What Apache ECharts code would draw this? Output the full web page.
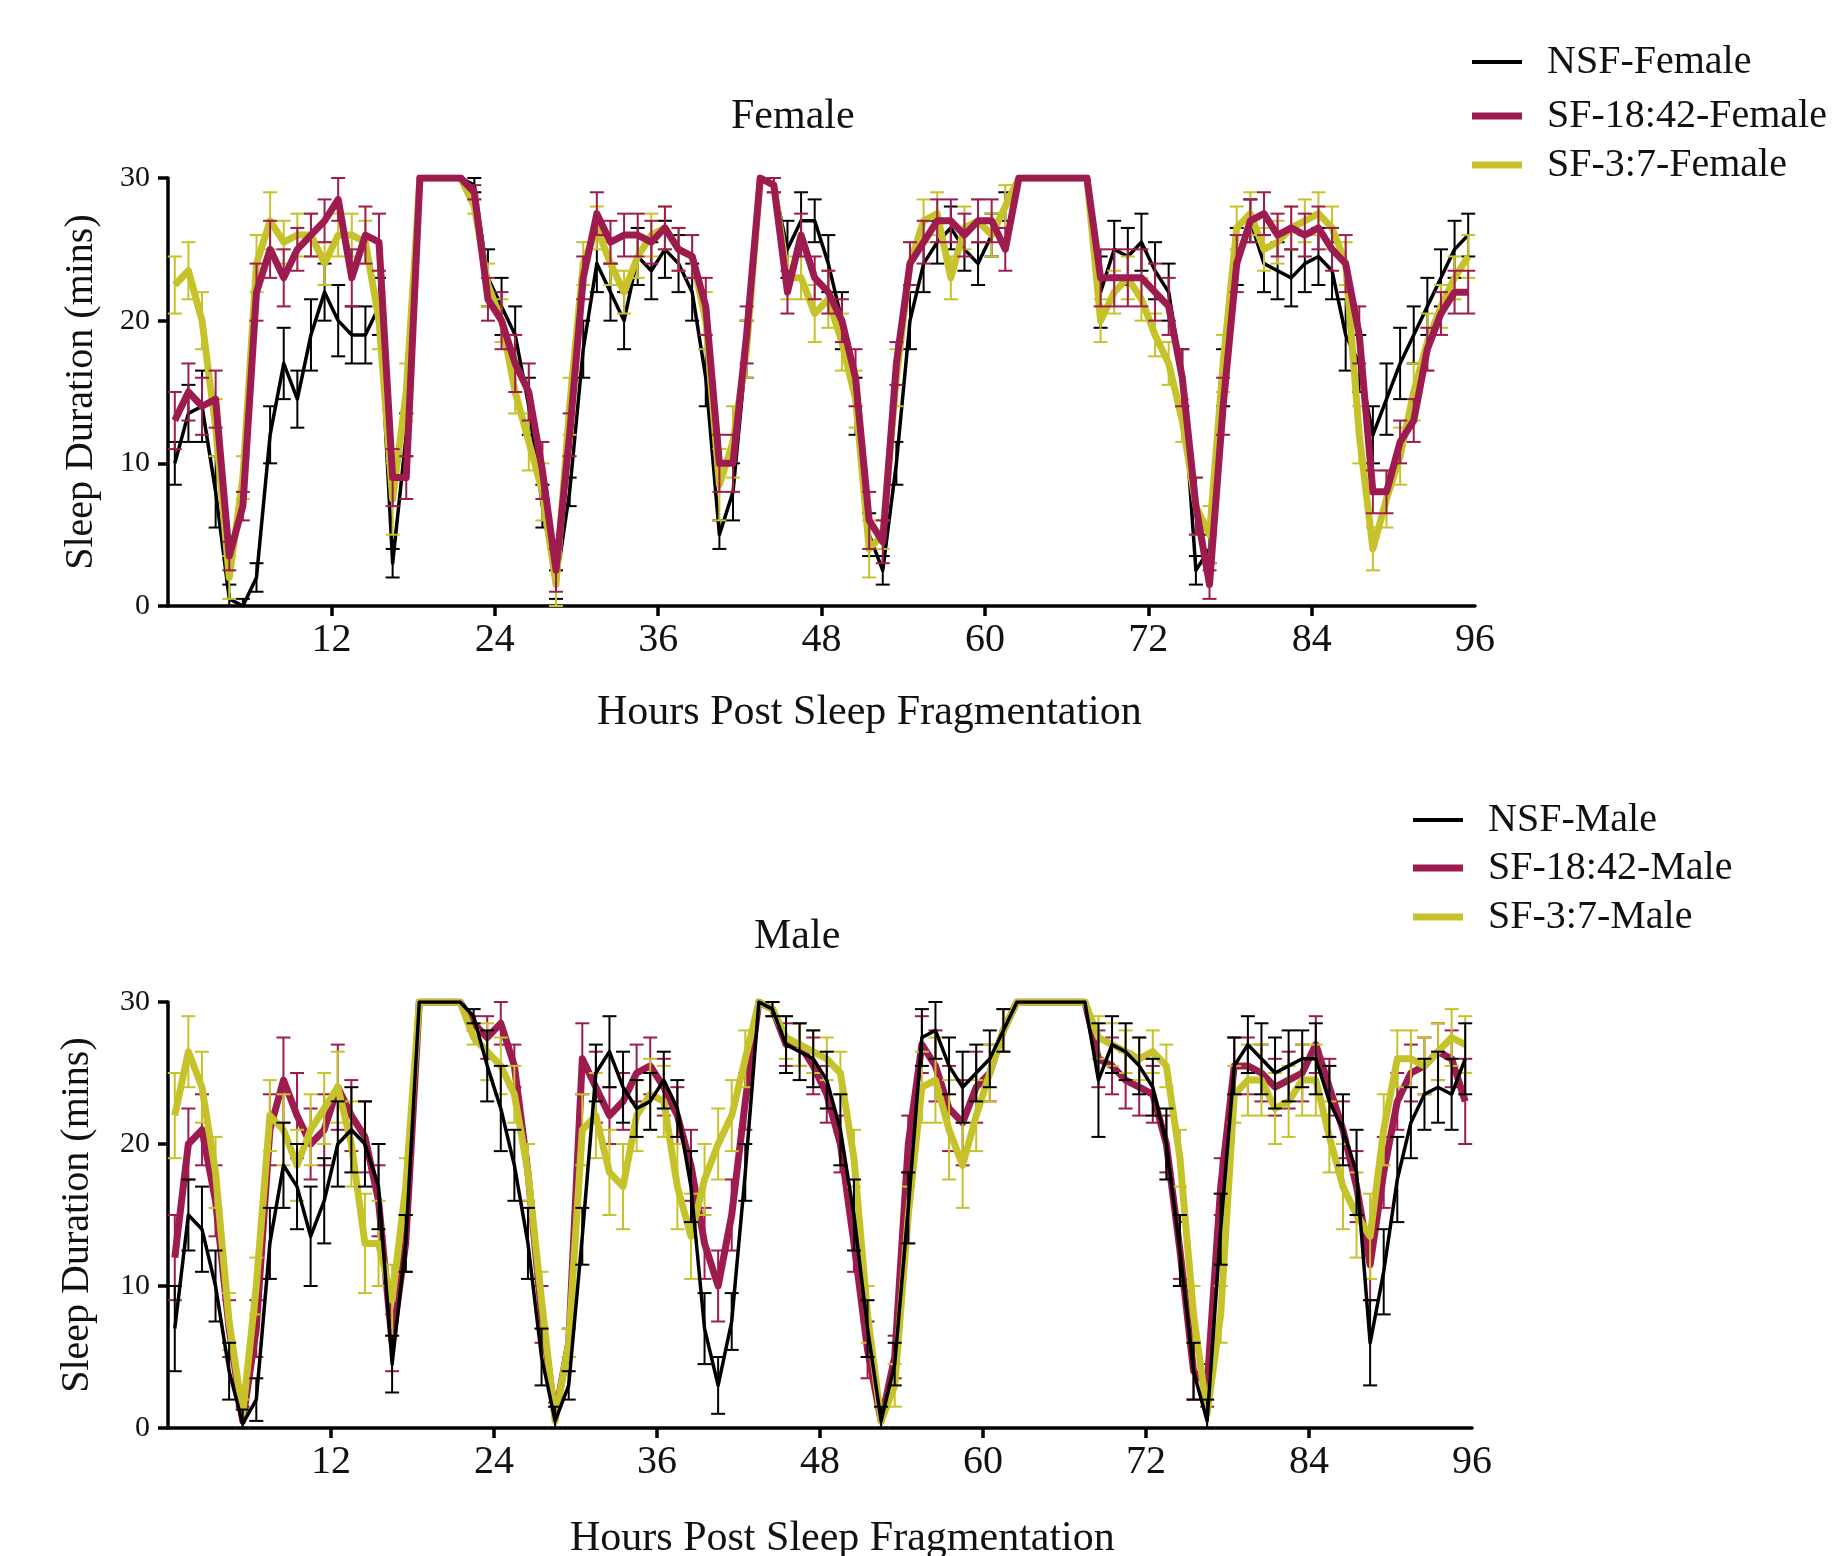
<!DOCTYPE html>
<html>
<head>
<meta charset="utf-8">
<script src="https://cdn.jsdelivr.net/npm/echarts@6/dist/echarts.min.js"></script>
<style>
html, body { margin: 0; padding: 0; background: #ffffff; }
#chart { width: 1835px; height: 1556px; }
</style>
</head>
<body>
<div id="chart"></div>
<script>
// Hourly bins (bin centres) across the 96 h recording
const HOURS = Array.from({ length: 96 }, (_, i) => i + 0.5);
const X_TICKS = [12, 24, 36, 48, 60, 72, 84];
const X_LABELS = [12, 24, 36, 48, 60, 72, 84, 96];

// Female: mean sleep per 30-min epoch (mins), one value per hour
const femNSF = [
  10, 13.5, 14, 8, 0.5, 0, 2, 12, 17, 14.5, 19, 22,
  20, 19, 19, 21, 3, 12, 30, 30, 30, 30, 29.5, 23,
  21, 19, 14, 7, 1.5, 8, 18, 24, 22, 20, 24.5, 23.5,
  25, 24, 22, 16, 5, 8, 18, 30, 29.5, 25, 27, 27,
  24, 20, 14, 5, 2.5, 10, 20, 24, 25.5, 26.5, 25, 24,
  26, 28, 30, 30, 30, 30, 30, 30, 22, 25, 24.5, 25.5,
  23.5, 22, 16, 2.5, 4, 16, 24.5, 27, 24, 23.5, 23, 24,
  24.5, 23.5, 19, 17, 12, 14.5, 17, 19, 21, 23, 25, 26
];
const femSF18 = [
  13, 15, 14, 14.5, 3.5, 7, 22, 25, 23, 25, 26, 27,
  28.5, 23, 26, 25.5, 9, 9, 30, 30, 30, 30, 29, 21.5,
  20, 17, 15, 9.5, 2.5, 12, 23, 27.5, 25.5, 26, 26, 25.5,
  26.5, 25, 24.5, 21, 10, 10, 19, 30, 29.5, 22, 26, 23,
  22, 20, 16, 6, 4.5, 17, 24, 25.5, 27, 27, 26, 27,
  27, 25, 30, 30, 30, 30, 30, 30, 23, 23, 23, 23,
  22, 21, 16, 7, 1.5, 14, 24, 27, 27.5, 26, 26.5, 26,
  26.5, 25, 24, 19, 8, 8, 11.5, 13, 18, 20.5, 22, 22
];
const femSF37 = [
  22.5, 23.5, 20, 12.5, 2, 9, 24, 27, 25.5, 26, 26, 24,
  26, 26, 25.5, 20, 7.5, 15, 30, 30, 30, 30, 28, 22.5,
  20, 15, 11.5, 8, 1.5, 14, 24, 26.5, 24, 22, 24.5, 26,
  26.5, 25, 24.5, 20, 8.5, 11.5, 18, 30, 29.5, 23, 23, 20.5,
  21.5, 18.5, 14.5, 4, 5, 16, 24, 27, 27.5, 23, 26.5, 27,
  26, 28, 30, 30, 30, 30, 30, 30, 20, 22, 23, 21.5,
  19, 17, 13, 7, 5, 17, 26.5, 27.5, 25, 25.5, 26.5, 27,
  27.5, 26.5, 24, 12, 4, 7.5, 10.5, 15, 18.5, 21, 23, 24.5
];

// Female: SEM
const femNSFErr = [
  1.5, 2, 2.5, 2.5, 1, 0.5, 1, 2, 2.5, 2, 2.5, 2,
  2.5, 2, 2, 2, 1, 1.5, 0, 0, 0, 0, 0.5, 2,
  2, 2, 2, 1.5, 1, 1, 2, 2, 2, 2, 2, 2,
  2, 2, 2, 2, 1, 2, 2, 0, 0.5, 2, 2, 1.5,
  2, 2, 2, 1.5, 1, 1.5, 2, 2, 1.5, 1.5, 1.5, 1.5,
  1.5, 1, 0, 0, 0, 0, 0, 0, 2.5, 2, 2, 2,
  2, 2, 2, 1, 1, 2, 2, 1.5, 2, 2, 2, 2,
  2, 2, 2.5, 2, 2, 2.5, 2.5, 2, 2, 2, 2, 1.5
];
const femSF18Err = [
  2, 2, 2, 2, 1, 1, 2, 2, 2, 1.5, 1.5, 1.5,
  1.5, 2, 2, 2, 2, 1.5, 0, 0, 0, 0, 0.5, 1.5,
  2, 2, 2, 2, 1.5, 1.5, 1.5, 1.5, 1.5, 1.5, 1.5, 1.5,
  1.5, 1.5, 1.5, 2, 2, 2, 2, 0, 0.5, 1.5, 1.5, 1.5,
  1.5, 1.5, 2, 2, 1.5, 1.5, 1.5, 1.5, 1.5, 1.5, 1.5, 1.5,
  1.5, 1.5, 0, 0, 0, 0, 0, 0, 2, 2, 2, 2,
  2, 2, 2, 2, 1, 2, 2, 1.5, 1.5, 1.5, 1.5, 1.5,
  1.5, 1.5, 2, 2, 1.5, 1.5, 1.5, 1.5, 1.5, 1.5, 1.5, 1.5
];
const femSF37Err = [
  2, 2, 2, 2, 1.5, 1.5, 2, 2, 1.5, 1.5, 1.5, 1.5,
  1.5, 1.5, 1.5, 2, 2.5, 2, 0, 0, 0, 0, 0.5, 1.5,
  1.5, 1.5, 2, 2, 2, 2, 1.5, 1.5, 1.5, 1.5, 1.5, 1.5,
  1.5, 1.5, 1.5, 2, 2.5, 2.5, 2, 0, 0.5, 1.5, 1.5, 2,
  2, 2, 2, 2, 1, 2, 1.5, 1.5, 1.5, 1.5, 1.5, 1.5,
  1.5, 1.5, 0, 0, 0, 0, 0, 0, 1.5, 1.5, 1.5, 1.5,
  1.5, 1.5, 1.5, 2, 2, 2, 1.5, 1.5, 1.5, 1.5, 1.5, 1.5,
  1.5, 1.5, 1.5, 2, 1.5, 2, 2, 2, 2, 1.5, 1.5, 1.5
];

// Male: mean sleep per 30-min epoch (mins), one value per hour
const malNSF = [
  7, 15, 14, 10, 4, 0.3, 2, 13, 18.5, 17, 13.5, 16,
  20, 21, 20, 17, 4.5, 13, 30, 30, 30, 30, 29, 25.5,
  22.5, 18.5, 13, 5, 0.5, 3, 13.5, 25, 26.5, 24, 22.5, 23,
  24.5, 22.5, 17, 7, 3, 7.5, 18, 30, 29.5, 27, 26.5, 26,
  24.5, 21, 15, 7, 0.5, 4.5, 15.5, 27.5, 28, 25.5, 24, 25,
  26, 28, 30, 30, 30, 30, 30, 30, 24.5, 27, 26.5, 25.5,
  24, 20, 12.5, 4, 0.5, 14, 25.5, 27, 26, 25, 25.5, 26,
  26, 23, 21, 18, 6, 11, 17.5, 21.5, 23.5, 24, 23.5, 26
];
const malSF18 = [
  12, 20, 21, 16, 7, 0.5, 7, 21, 24.5, 22, 20, 21,
  24, 22, 20.5, 16, 6, 13, 30, 30, 30, 30, 28.5, 27.5,
  28.5, 25.5, 18, 8, 0.8, 6, 26, 24, 22, 23, 25, 25.5,
  24, 22, 18.5, 13, 10, 15, 23, 30, 29.5, 27, 27, 25.5,
  23.5, 20, 13, 5.5, 0.5, 5, 20, 27, 25.5, 22.5, 21.5, 24,
  25, 28, 30, 30, 30, 30, 30, 30, 26, 25.5, 24.5, 24,
  23.5, 20, 12.5, 4, 3, 17, 25.5, 25.5, 25, 24, 24.5, 25,
  27, 24, 21, 17, 11.5, 18, 23, 25, 25.5, 26.5, 26, 23
];
const malSF37 = [
  22, 26.5, 24, 18, 7.5, 1, 10, 22, 21, 18.5, 21, 22.5,
  24, 20, 13, 13, 9, 17, 30, 30, 30, 30, 27.5, 26.5,
  25.5, 23.5, 18, 9, 0.5, 6, 21, 22, 18, 17, 22, 23.5,
  23, 17, 13.5, 17.5, 20, 22, 26, 30, 29.5, 27.5, 27, 26.5,
  26, 25, 19, 8, 0.5, 3, 15, 24, 24.5, 21, 18.5, 22,
  25, 28, 30, 30, 30, 30, 30, 30, 27.5, 27, 26.5, 26,
  26.5, 25.5, 19, 8, 1, 8, 23.5, 24.5, 24.5, 22.5, 23, 24.5,
  24.5, 20.5, 17, 15, 13.5, 21, 26, 26, 25.5, 26.5, 27.5, 27
];

// Male: SEM
const malNSFErr = [
  3, 2.5, 3, 2.5, 2, 1, 1.5, 2.5, 3, 3, 3.5, 3,
  3, 3, 3, 3, 2, 2, 0, 0, 0, 0, 0.5, 2.5,
  3, 2.5, 2.5, 2, 1, 1, 2, 2, 2.5, 2.5, 2, 2,
  2, 2, 2.5, 2.5, 2, 2, 2, 0, 0.5, 2, 2, 2,
  2, 2.5, 2.5, 2, 1, 1.5, 2.5, 2, 2, 2, 2.5, 2,
  2, 1.5, 0, 0, 0, 0, 0, 0, 4, 2, 2, 2,
  2, 2.5, 2.5, 2, 1.5, 2.5, 2, 2, 2.5, 2.5, 2.5, 2,
  2.5, 2.5, 2.5, 3, 3, 3, 3, 2.5, 2.5, 2.5, 2.5, 2.5
];
const malSF18Err = [
  3, 2.5, 2.5, 2.5, 2, 1, 2, 2.5, 3, 3, 2.5, 2.5,
  3, 2.5, 2.5, 2.5, 2, 2, 0, 0, 0, 0, 0.5, 1.5,
  1.5, 1.5, 2, 2, 1, 1, 2.5, 2.5, 2, 2, 2, 2,
  2, 2, 2.5, 2.5, 2.5, 2.5, 2, 0, 0.5, 1.5, 1.5, 2,
  2, 2, 2, 2, 1, 1.5, 2, 2, 2.5, 3, 3, 2.5,
  2, 1.5, 0, 0, 0, 0, 0, 0, 2, 2, 2, 2,
  2, 2, 2, 2, 1.5, 2, 2, 2, 2, 2, 2, 2,
  2, 2, 2, 2.5, 2.5, 2.5, 2, 2, 2, 2, 2, 3
];
const malSF37Err = [
  3, 2.5, 2.5, 2.5, 2, 1, 2, 2.5, 2.5, 2.5, 2.5, 2.5,
  2.5, 3, 3.5, 3, 2.5, 2, 0, 0, 0, 0, 0.5, 2,
  2, 2, 2, 2, 1, 1, 2.5, 3, 3, 3, 2.5, 2.5,
  2.5, 3, 3, 2.5, 2.5, 2.5, 2, 0, 0.5, 1.5, 1.5, 1.5,
  1.5, 1.5, 2, 2, 1, 1.5, 2, 2.5, 3, 3.5, 3, 2.5,
  2, 1.5, 0, 0, 0, 0, 0, 0, 1.5, 1.5, 1.5, 1.5,
  1.5, 1.5, 2, 2, 1, 2, 2, 2.5, 2.5, 2.5, 2.5, 2.5,
  2.5, 2.5, 3, 3, 3, 2.5, 2, 2, 2, 2, 2, 2
];

const FONT = "'Liberation Serif', 'Times New Roman', serif";
const INK = '#111111';
const C_NSF = '#000000';
const C_SF18 = '#9e1b50';
const C_SF37 = '#c6c32a';

// Panel layout (pixels)
const panels = [
  {
    title: 'Female', titleLeft: 731, titleTop: 96,
    grid: { left: 168, top: 178, width: 1307, height: 428 },
    xName: { left: 597, top: 692 }, yNameGap: 67,
    // drawing order: first is at the bottom
    groups: [
      { name: 'NSF-Female', vals: femNSF, errs: femNSFErr, color: C_NSF, width: 3.5 },
      { name: 'SF-3:7-Female', vals: femSF37, errs: femSF37Err, color: C_SF37, width: 7 },
      { name: 'SF-18:42-Female', vals: femSF18, errs: femSF18Err, color: C_SF18, width: 7 }
    ],
    legend: { left: 1472, rows: [
      { name: 'NSF-Female', cy: 62, h: 4 },
      { name: 'SF-18:42-Female', cy: 116, h: 7 },
      { name: 'SF-3:7-Female', cy: 165, h: 7 }
    ] }
  },
  {
    title: 'Male', titleLeft: 754, titleTop: 916,
    grid: { left: 168, top: 1002, width: 1304, height: 426 },
    xName: { left: 570, top: 1518 }, yNameGap: 71,
    groups: [
      { name: 'SF-18:42-Male', vals: malSF18, errs: malSF18Err, color: C_SF18, width: 7 },
      { name: 'SF-3:7-Male', vals: malSF37, errs: malSF37Err, color: C_SF37, width: 7 },
      { name: 'NSF-Male', vals: malNSF, errs: malNSFErr, color: C_NSF, width: 3.5 }
    ],
    legend: { left: 1413, rows: [
      { name: 'NSF-Male', cy: 820, h: 4 },
      { name: 'SF-18:42-Male', cy: 868, h: 7 },
      { name: 'SF-3:7-Male', cy: 917, h: 7 }
    ] }
  }
];

const titleStyle = { fontFamily: FONT, fontSize: 42, fontWeight: 'normal', color: INK };

const option = {
  animation: false,
  backgroundColor: '#ffffff',
  title: [],
  legend: [],
  grid: [],
  xAxis: [],
  yAxis: [],
  series: []
};

panels.forEach((p, pi) => {
  option.title.push({ text: p.title, left: p.titleLeft, top: p.titleTop, padding: 0, textStyle: titleStyle });
  option.title.push({ text: 'Hours Post Sleep Fragmentation', left: p.xName.left, top: p.xName.top, padding: 0, textStyle: titleStyle });

  option.grid.push(Object.assign({ containLabel: false }, p.grid));

  option.xAxis.push({
    type: 'value', gridIndex: pi, min: 0, max: 96,
    axisLine: { show: true, onZero: false, lineStyle: { color: '#000', width: 3.5 } },
    axisTick: { show: true, length: 10, customValues: X_TICKS, lineStyle: { color: '#000', width: 3.5 } },
    axisLabel: { customValues: X_LABELS, fontFamily: FONT, fontSize: 40, color: INK, margin: 14 },
    splitLine: { show: false }
  });
  option.yAxis.push({
    type: 'value', gridIndex: pi, min: 0, max: 30, interval: 10,
    name: 'Sleep Duration (mins)', nameLocation: 'middle', nameGap: p.yNameGap, nameRotate: 90,
    nameTextStyle: { fontFamily: FONT, fontSize: 40, color: INK },
    axisLine: { show: true, lineStyle: { color: '#000', width: 3.5 } },
    axisTick: { show: true, length: 10, lineStyle: { color: '#000', width: 3.5 } },
    axisLabel: { fontFamily: FONT, fontSize: 30, color: INK, margin: 18 },
    splitLine: { show: false }
  });

  p.groups.forEach((g, gi) => {
    const z = 2 + gi * 2;
    const color = g.color;
    // SEM bars with caps
    option.series.push({
      type: 'custom', name: g.name + ' SEM', xAxisIndex: pi, yAxisIndex: pi,
      silent: true, clip: false, z: z,
      encode: { x: 0, y: 1 },
      data: HOURS.map((h, i) => [h, g.vals[i], g.errs[i]]),
      renderItem: (params, api) => {
        const x = api.value(0), y = api.value(1), e = api.value(2);
        if (!e) return { type: 'group', children: [] };
        const hi = api.coord([x, y + e]);
        const lo = api.coord([x, Math.max(0, y - e)]);
        const w = 7;
        const style = { stroke: color, lineWidth: 2 };
        return {
          type: 'group',
          children: [
            { type: 'line', shape: { x1: hi[0], y1: hi[1], x2: lo[0], y2: lo[1] }, style: style },
            { type: 'line', shape: { x1: hi[0] - w, y1: hi[1], x2: hi[0] + w, y2: hi[1] }, style: style },
            { type: 'line', shape: { x1: lo[0] - w, y1: lo[1], x2: lo[0] + w, y2: lo[1] }, style: style }
          ]
        };
      }
    });
    // mean trace
    option.series.push({
      type: 'line', name: g.name, xAxisIndex: pi, yAxisIndex: pi,
      z: z + 1, showSymbol: false, symbol: 'none',
      lineStyle: { color: color, width: g.width, join: 'round' },
      itemStyle: { color: color },
      data: HOURS.map((h, i) => [h, g.vals[i]])
    });
  });

  p.legend.rows.forEach(r => {
    option.legend.push({
      data: [{ name: r.name }],
      left: p.legend.left, top: r.cy - 22,
      padding: 0, selectedMode: false,
      icon: 'rect', itemWidth: 50, itemHeight: r.h,
      textStyle: { fontFamily: FONT, fontSize: 40, color: INK, padding: [0, 0, 0, 20], lineHeight: 44 }
    });
  });
});

const chart = echarts.init(document.getElementById('chart'), null, { renderer: 'canvas' });
chart.setOption(option);
</script>
</body>
</html>
